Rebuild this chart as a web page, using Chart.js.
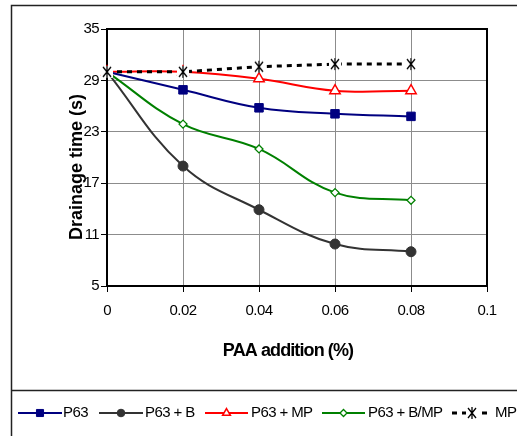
<!DOCTYPE html>
<html>
<head>
<meta charset="utf-8">
<script src="https://cdn.jsdelivr.net/npm/chart.js@4"></script>
<style>
    html, body { margin: 0; padding: 0; background: #fff; }
    canvas { display: block; }
</style>
</head>
<body>
<canvas id="drainageChart" width="517" height="436"></canvas>
<script>
// Values
const paaAddition = [0, 0.02, 0.04, 0.06, 0.08];
const p63 = [30, 27.9, 25.8, 25.1, 24.8];
const p63B = [30, 19.0, 13.9, 9.9, 9.0];
const p63MP = [30, 30, 29.2, 27.8, 27.8];
const p63BMP = [30, 23.9, 21.0, 15.9, 15.0];
const mp = [30, 30, 30.6, 30.9, 30.9];

const xTicks = [0, 0.02, 0.04, 0.06, 0.08, 0.1];
const xTickLabels = ['0', '0.02', '0.04', '0.06', '0.08', '0.1'];
const yTicks = [5, 11, 17, 23, 29, 35];

const seriesNames = ['P63', 'P63 + B', 'P63 + MP', 'P63 + B/MP', 'MP'];

const FONT = '"Liberation Sans", Arial, sans-serif';

// X-shaped marker with a vertical stroke, on a white patch (Excel "star" marker)
function makeStarMarker() {
    const c = document.createElement('canvas');
    c.width = 14;
    c.height = 14;
    const g = c.getContext('2d');
    g.fillStyle = '#fff';
    g.fillRect(1, 1, 12, 12);
    g.strokeStyle = '#000';
    g.lineWidth = 1.3;
    g.beginPath();
    g.moveTo(3, 2); g.lineTo(11, 12);
    g.moveTo(11, 2); g.lineTo(3, 12);
    g.moveTo(7, 1); g.lineTo(7, 13);
    g.stroke();
    return c;
}
const starMarker = makeStarMarker();

function toPoints(values) {
    return values.map((v, i) => ({ x: paaAddition[i], y: v }));
}

// Frame, axis titles, bottom legend
const framePlugin = {
    id: 'frame',
    beforeUpdate(chart) {
        chart.ctx.letterSpacing = '-0.6px';
    },
    beforeDraw(chart) {
        chart.ctx.letterSpacing = '-0.6px';
    },
    beforeDatasetsDraw(chart) {
        const { ctx, chartArea: a } = chart;
        ctx.save();
        ctx.strokeStyle = '#000';
        ctx.lineWidth = 2;
        ctx.strokeRect(a.left, a.top, a.right - a.left, a.bottom - a.top);
        ctx.restore();
    },
    afterDraw(chart) {
        const ctx = chart.ctx;
        ctx.save();

        // outer chart border
        ctx.strokeStyle = '#222';
        ctx.lineWidth = 1.5;
        ctx.beginPath();
        ctx.moveTo(11.5, 436);
        ctx.lineTo(11.5, 5.5);
        ctx.lineTo(517, 5.5);
        ctx.moveTo(11.5, 390.5);
        ctx.lineTo(517, 390.5);
        ctx.stroke();

        // axis titles
        ctx.fillStyle = '#000';
        ctx.textAlign = 'center';
        ctx.textBaseline = 'middle';
        ctx.font = 'bold 18px ' + FONT;
        ctx.letterSpacing = '-0.9px';
        ctx.fillText('PAA addition (%)', 288, 351);
        ctx.letterSpacing = '0px';
        ctx.save();
        ctx.translate(77, 167);
        ctx.rotate(-Math.PI / 2);
        ctx.fillText('Drainage time (s)', 0, 0);
        ctx.restore();
        ctx.letterSpacing = '-0.6px';

        // legend
        const legendPos = [
            { x0: 18, x1: 62, tx: 63, r: 5 },
            { x0: 99, x1: 143, tx: 145, r: 3.8 },
            { x0: 205, x1: 248, tx: 251, r: 4.5 },
            { x0: 322, x1: 365, tx: 368, r: 3.5 },
            { x0: 452, x1: 492, tx: 495, r: 5 }
        ];
        const ly = 413;
        chart.data.datasets.forEach((ds, i) => {
            const p = legendPos[i];
            ctx.save();
            ctx.strokeStyle = ds.borderColor;
            ctx.lineWidth = ds.borderWidth;
            ctx.setLineDash(ds.borderDash || []);
            ctx.beginPath();
            ctx.moveTo(p.x0, ly);
            ctx.lineTo(p.x1, ly);
            ctx.stroke();
            ctx.setLineDash([]);
            ctx.fillStyle = ds.pointBackgroundColor;
            ctx.strokeStyle = ds.borderColor;
            ctx.lineWidth = ds.pointBorderWidth;
            Chart.helpers.drawPoint(ctx, {
                pointStyle: ds.pointStyle,
                radius: p.r,
                rotation: 0,
                borderWidth: ds.pointBorderWidth
            }, (p.x0 + p.x1) / 2, ly);
            ctx.restore();

            ctx.fillStyle = '#000';
            ctx.font = '15px ' + FONT;
            ctx.textAlign = 'left';
            ctx.textBaseline = 'middle';
            ctx.fillText(ds.label, p.tx, ly);
        });

        ctx.restore();
    }
};

new Chart(document.getElementById('drainageChart'), {
    type: 'line',
    data: {
        datasets: [
            {
                label: seriesNames[0],
                data: toPoints(p63),
                borderColor: '#000080',
                pointBackgroundColor: '#000080',
                borderWidth: 2,
                pointStyle: 'rect',
                pointRadius: 6,
                pointBorderWidth: 1,
                tension: 0.4,
                clip: false,
                order: 1
            },
            {
                label: seriesNames[1],
                data: toPoints(p63B),
                borderColor: '#333333',
                pointBackgroundColor: '#333333',
                borderWidth: 2,
                pointStyle: 'circle',
                pointRadius: 5,
                pointBorderWidth: 1,
                tension: 0.4,
                clip: false,
                order: 2
            },
            {
                label: seriesNames[2],
                data: toPoints(p63MP),
                borderColor: '#ff0000',
                pointBackgroundColor: '#ffffff',
                borderWidth: 2,
                pointStyle: 'triangle',
                pointRadius: 6,
                pointBorderWidth: 1.5,
                tension: 0.4,
                clip: false,
                order: 1
            },
            {
                label: seriesNames[3],
                data: toPoints(p63BMP),
                borderColor: '#008000',
                pointBackgroundColor: '#ffffff',
                borderWidth: 2,
                pointStyle: 'rectRot',
                pointRadius: 4,
                pointBorderWidth: 1.3,
                tension: 0.4,
                clip: false,
                order: 1
            },
            {
                label: seriesNames[4],
                data: toPoints(mp),
                borderColor: '#000000',
                pointBackgroundColor: '#ffffff',
                borderWidth: 3,
                borderDash: [5, 5],
                pointStyle: starMarker,
                pointRadius: 6,
                pointBorderWidth: 1,
                tension: 0,
                clip: false,
                order: 0
            }
        ]
    },
    options: {
        responsive: false,
        devicePixelRatio: 1,
        animation: false,
        layout: {
            padding: { left: 40, top: 29, right: 30, bottom: 120 }
        },
        plugins: {
            legend: { display: false },
            tooltip: { enabled: false }
        },
        scales: {
            x: {
                type: 'linear',
                min: 0,
                max: 0.1,
                afterBuildTicks: scale => {
                    scale.ticks = xTicks.map(v => ({ value: v }));
                },
                afterFit: scale => { scale.height = 30; },
                border: { display: false },
                grid: {
                    color: '#8c8c8c',
                    lineWidth: 1,
                    tickColor: '#000',
                    tickLength: 6
                },
                ticks: {
                    color: '#000',
                    font: { family: FONT, size: 15 },
                    padding: 10,
                    maxRotation: 0,
                    callback: (v, i) => xTickLabels[i]
                }
            },
            y: {
                min: 5,
                max: 35,
                afterBuildTicks: scale => {
                    scale.ticks = yTicks.map(v => ({ value: v }));
                },
                afterFit: scale => { scale.width = 67; },
                border: { display: false },
                grid: {
                    color: '#8c8c8c',
                    lineWidth: 1,
                    tickColor: '#000',
                    tickLength: 6
                },
                ticks: {
                    color: '#000',
                    font: { family: FONT, size: 15 },
                    padding: 2
                }
            }
        }
    },
    plugins: [framePlugin]
});
</script>
</body>
</html>
